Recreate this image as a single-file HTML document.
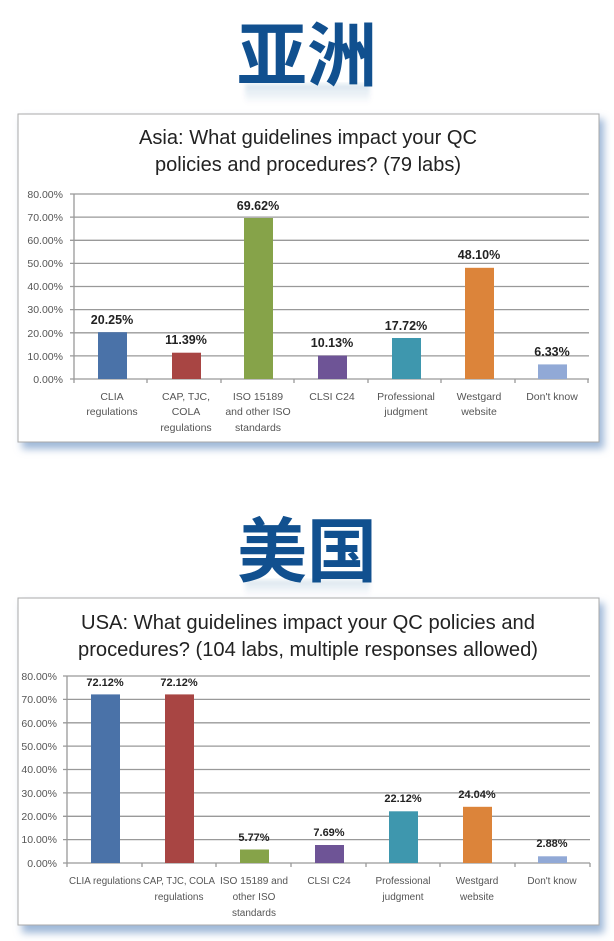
<!DOCTYPE html>
<html><head><meta charset="utf-8"><style>
html,body{margin:0;padding:0;background:#fff;}
svg{display:block}
.h{font-family:"Liberation Sans","Noto Sans CJK SC",sans-serif;font-weight:bold;font-size:70px;fill:#11508f}
.t{font-family:"Liberation Sans",sans-serif;font-size:20px;fill:#222}
.y{font-family:"Liberation Sans",sans-serif;font-size:10.5px;fill:#555;text-anchor:end}
.v{font-family:"Liberation Sans",sans-serif;font-size:12.5px;font-weight:bold;fill:#222;text-anchor:middle}
.c{font-family:"Liberation Sans",sans-serif;font-size:10.5px;fill:#555;text-anchor:middle}
.g{stroke:#999;stroke-width:1.3}
</style></head><body>
<svg width="614" height="941" viewBox="0 0 614 941" xmlns="http://www.w3.org/2000/svg">
<defs>
<linearGradient id="rf" x1="0" y1="0" x2="0" y2="1"><stop offset="0" stop-color="#11508f" stop-opacity="0.15"/><stop offset="1" stop-color="#11508f" stop-opacity="0"/></linearGradient>
<filter id="sh" x="-5%" y="-5%" width="112%" height="115%"><feGaussianBlur stdDeviation="4"/></filter>
<filter id="bl"><feGaussianBlur stdDeviation="2"/></filter>
</defs>
<!-- Asia header -->
<text class="h" x="237" y="80" textLength="140" lengthAdjust="spacingAndGlyphs">亚洲</text>
<rect x="245" y="84" width="125" height="20" fill="url(#rf)" filter="url(#bl)"/>
<!-- Asia box -->
<rect x="22" y="119" width="582" height="330" fill="#9fb8d8" filter="url(#sh)"/>
<rect x="18" y="114" width="581" height="328" fill="#fff" stroke="#aaa" stroke-width="1"/>
<text class="t" x="308" y="144" text-anchor="middle" textLength="338" lengthAdjust="spacingAndGlyphs">Asia: What guidelines impact your QC</text>
<text class="t" x="308" y="171" text-anchor="middle" textLength="306" lengthAdjust="spacingAndGlyphs">policies and procedures? (79 labs)</text>
<g class="g">
<line x1="70" y1="194" x2="589" y2="194"/><line x1="70" y1="217.1" x2="589" y2="217.1"/><line x1="70" y1="240.3" x2="589" y2="240.3"/><line x1="70" y1="263.4" x2="589" y2="263.4"/><line x1="70" y1="286.5" x2="589" y2="286.5"/><line x1="70" y1="309.6" x2="589" y2="309.6"/><line x1="70" y1="332.8" x2="589" y2="332.8"/><line x1="70" y1="355.9" x2="589" y2="355.9"/><line x1="70" y1="379" x2="589" y2="379"/>
<line x1="74" y1="194" x2="74" y2="383"/>
<line x1="147" y1="379" x2="147" y2="383"/><line x1="221" y1="379" x2="221" y2="383"/><line x1="294" y1="379" x2="294" y2="383"/><line x1="368" y1="379" x2="368" y2="383"/><line x1="441" y1="379" x2="441" y2="383"/><line x1="515" y1="379" x2="515" y2="383"/><line x1="588" y1="379" x2="588" y2="383"/>
</g>
<g>
<text class="y" x="63" y="198">80.00%</text><text class="y" x="63" y="221">70.00%</text><text class="y" x="63" y="244">60.00%</text><text class="y" x="63" y="267">50.00%</text><text class="y" x="63" y="290">40.00%</text><text class="y" x="63" y="313">30.00%</text><text class="y" x="63" y="337">20.00%</text><text class="y" x="63" y="360">10.00%</text><text class="y" x="63" y="383">0.00%</text>
</g>
<rect x="98" y="332.2" width="29" height="46.8" fill="#4a72a8"/>
<rect x="172" y="352.7" width="29" height="26.3" fill="#a84543"/>
<rect x="244" y="218" width="29" height="161" fill="#86a349"/>
<rect x="318" y="355.6" width="29" height="23.4" fill="#6e5496"/>
<rect x="392" y="338" width="29" height="41" fill="#3e97ae"/>
<rect x="465" y="267.8" width="29" height="111.2" fill="#dc843a"/>
<rect x="538" y="364.4" width="29" height="14.6" fill="#91a9d6"/>
<text class="v" x="112" y="324">20.25%</text>
<text class="v" x="186" y="344">11.39%</text>
<text class="v" x="258" y="210">69.62%</text>
<text class="v" x="332" y="347">10.13%</text>
<text class="v" x="406" y="330">17.72%</text>
<text class="v" x="479" y="259">48.10%</text>
<text class="v" x="552" y="356">6.33%</text>
<text class="c" x="112" y="400">CLIA</text><text class="c" x="112" y="415">regulations</text>
<text class="c" x="186" y="400">CAP, TJC,</text><text class="c" x="186" y="415">COLA</text><text class="c" x="186" y="431">regulations</text>
<text class="c" x="258" y="400">ISO 15189</text><text class="c" x="258" y="415">and other ISO</text><text class="c" x="258" y="431">standards</text>
<text class="c" x="332" y="400">CLSI C24</text>
<text class="c" x="406" y="400">Professional</text><text class="c" x="406" y="415">judgment</text>
<text class="c" x="479" y="400">Westgard</text><text class="c" x="479" y="415">website</text>
<text class="c" x="552" y="400">Don't know</text>

<!-- USA header -->
<text class="h" x="237" y="576" textLength="140" lengthAdjust="spacingAndGlyphs">美国</text>
<rect x="245" y="580" width="125" height="16" fill="url(#rf)" filter="url(#bl)"/>
<!-- USA box -->
<rect x="22" y="603" width="582" height="330" fill="#9fb8d8" filter="url(#sh)"/>
<rect x="18" y="598" width="581" height="327" fill="#fff" stroke="#aaa" stroke-width="1"/>
<text class="t" x="308" y="629" text-anchor="middle" textLength="454" lengthAdjust="spacingAndGlyphs">USA: What guidelines impact your QC policies and</text>
<text class="t" x="308" y="656" text-anchor="middle" textLength="460" lengthAdjust="spacingAndGlyphs">procedures? (104 labs, multiple responses allowed)</text>
<g class="g">
<line x1="63" y1="676" x2="590" y2="676"/><line x1="63" y1="699.4" x2="590" y2="699.4"/><line x1="63" y1="722.8" x2="590" y2="722.8"/><line x1="63" y1="746.1" x2="590" y2="746.1"/><line x1="63" y1="769.5" x2="590" y2="769.5"/><line x1="63" y1="792.9" x2="590" y2="792.9"/><line x1="63" y1="816.3" x2="590" y2="816.3"/><line x1="63" y1="839.6" x2="590" y2="839.6"/><line x1="63" y1="863" x2="590" y2="863"/>
<line x1="67" y1="676" x2="67" y2="867"/>
<line x1="142" y1="863" x2="142" y2="867"/><line x1="216" y1="863" x2="216" y2="867"/><line x1="291" y1="863" x2="291" y2="867"/><line x1="366" y1="863" x2="366" y2="867"/><line x1="440" y1="863" x2="440" y2="867"/><line x1="515" y1="863" x2="515" y2="867"/><line x1="590" y1="863" x2="590" y2="867"/>
</g>
<g>
<text class="y" x="57" y="680">80.00%</text><text class="y" x="57" y="703">70.00%</text><text class="y" x="57" y="727">60.00%</text><text class="y" x="57" y="750">50.00%</text><text class="y" x="57" y="773">40.00%</text><text class="y" x="57" y="797">30.00%</text><text class="y" x="57" y="820">20.00%</text><text class="y" x="57" y="843">10.00%</text><text class="y" x="57" y="867">0.00%</text>
</g>
<rect x="91" y="694.4" width="29" height="168.6" fill="#4a72a8"/>
<rect x="165" y="694.4" width="29" height="168.6" fill="#a84543"/>
<rect x="240" y="849.5" width="29" height="13.5" fill="#86a349"/>
<rect x="315" y="845" width="29" height="18" fill="#6e5496"/>
<rect x="389" y="811.3" width="29" height="51.7" fill="#3e97ae"/>
<rect x="463" y="806.8" width="29" height="56.2" fill="#dc843a"/>
<rect x="538" y="856.3" width="29" height="6.7" fill="#91a9d6"/>
<text class="v" x="105" y="686" style="font-size:11px">72.12%</text>
<text class="v" x="179" y="686" style="font-size:11px">72.12%</text>
<text class="v" x="254" y="841" style="font-size:11px">5.77%</text>
<text class="v" x="329" y="836" style="font-size:11px">7.69%</text>
<text class="v" x="403" y="802" style="font-size:11px">22.12%</text>
<text class="v" x="477" y="798" style="font-size:11px">24.04%</text>
<text class="v" x="552" y="847" style="font-size:11px">2.88%</text>
<text class="c" x="105" y="884" style="font-size:10px" textLength="72" lengthAdjust="spacingAndGlyphs">CLIA regulations</text>
<text class="c" x="179" y="884" style="font-size:10px" textLength="72" lengthAdjust="spacingAndGlyphs">CAP, TJC, COLA</text><text class="c" x="179" y="900" style="font-size:10px">regulations</text>
<text class="c" x="254" y="884" style="font-size:10px" textLength="68" lengthAdjust="spacingAndGlyphs">ISO 15189 and</text><text class="c" x="254" y="900" style="font-size:10px">other ISO</text><text class="c" x="254" y="916" style="font-size:10px">standards</text>
<text class="c" x="329" y="884" style="font-size:10px">CLSI C24</text>
<text class="c" x="403" y="884" style="font-size:10px">Professional</text><text class="c" x="403" y="900" style="font-size:10px">judgment</text>
<text class="c" x="477" y="884" style="font-size:10px">Westgard</text><text class="c" x="477" y="900" style="font-size:10px">website</text>
<text class="c" x="552" y="884" style="font-size:10px">Don't know</text>
</svg>
</body></html>
